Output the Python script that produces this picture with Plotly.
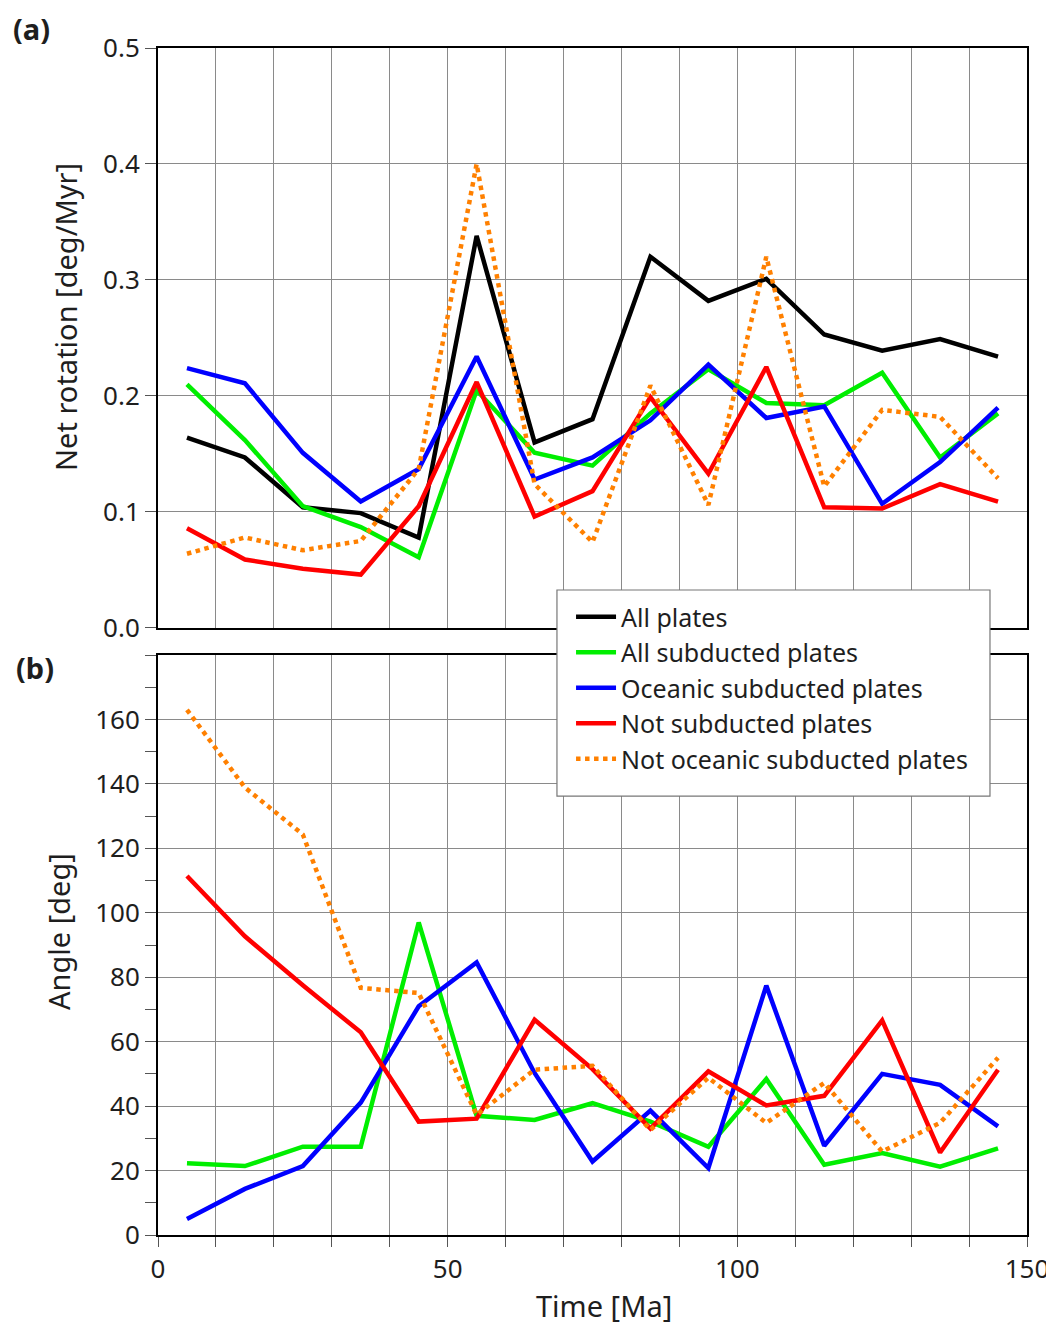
import plotly.graph_objects as go

time = [5, 15, 25, 35, 45, 55, 65, 75, 85, 95, 105, 115, 125, 135, 145]

series_names = ["All plates", "All subducted plates", "Oceanic subducted plates",
                "Not subducted plates", "Not oceanic subducted plates"]

# (a) Net rotation [deg/Myr]
nr_all = [0.164, 0.147, 0.104, 0.099, 0.078, 0.338, 0.160, 0.180, 0.320, 0.282, 0.301, 0.253, 0.239, 0.249, 0.234]
nr_sub = [0.210, 0.162, 0.105, 0.087, 0.061, 0.205, 0.151, 0.140, 0.185, 0.223, 0.194, 0.192, 0.220, 0.147, 0.185]
nr_ocs = [0.224, 0.211, 0.151, 0.109, 0.137, 0.234, 0.128, 0.147, 0.179, 0.227, 0.181, 0.191, 0.107, 0.143, 0.190]
nr_nsb = [0.086, 0.059, 0.051, 0.046, 0.105, 0.212, 0.096, 0.118, 0.199, 0.133, 0.225, 0.104, 0.103, 0.124, 0.109]
nr_nos = [0.064, 0.078, 0.067, 0.075, 0.137, 0.400, 0.124, 0.074, 0.209, 0.106, 0.320, 0.122, 0.188, 0.182, 0.129]

# (b) Angle [deg]
an_sub = [22.3, 21.4, 27.4, 27.4, 97.0, 37.0, 35.7, 40.9, 35.2, 27.4, 48.4, 21.8, 25.4, 21.2, 26.9]
an_ocs = [5.0, 14.3, 21.4, 41.1, 71.0, 84.6, 50.3, 22.8, 38.6, 20.8, 77.4, 27.7, 50.0, 46.6, 33.7]
an_nsb = [111.4, 92.7, 77.5, 62.9, 35.2, 36.1, 66.8, 51.5, 33.0, 50.8, 40.2, 43.2, 66.6, 25.6, 51.3]
an_nos = [163.0, 138.9, 124.3, 76.7, 75.1, 37.3, 51.3, 52.5, 32.6, 48.8, 34.8, 47.2, 25.9, 34.8, 55.0]

x_tickvals = [0, 10, 20, 30, 40, 50, 60, 70, 80, 90, 100, 110, 120, 130, 140, 150]
x_ticktext = ["0", "", "", "", "", "50", "", "", "", "", "100", "", "", "", "", "150"]
ya_tickvals = [0.0, 0.1, 0.2, 0.3, 0.4, 0.5]
ya_ticktext = ["0.0", "0.1", "0.2", "0.3", "0.4", "0.5"]
yb_tickvals = [0, 20, 40, 60, 80, 100, 120, 140, 160]

colors = ["#000000", "#00EE00", "#0000FF", "#FF0000", "#FF8000"]
dashes = ["solid", "solid", "solid", "solid", "dot"]

FONT = "Noto Sans"
TXT = "#1e1e1e"
fig = go.Figure()

data_a = [nr_all, nr_sub, nr_ocs, nr_nsb, nr_nos]
for name, ys, c, d in zip(series_names, data_a, colors, dashes):
    fig.add_trace(go.Scatter(x=time, y=ys, mode="lines", name=name,
                             line=dict(color=c, width=4.5, dash=d),
                             xaxis="x", yaxis="y", showlegend=True))

data_b = [an_sub, an_ocs, an_nsb, an_nos]
for name, ys, c, d in zip(series_names[1:], data_b, colors[1:], dashes[1:]):
    fig.add_trace(go.Scatter(x=time, y=ys, mode="lines", name=name,
                             line=dict(color=c, width=4.5, dash=d),
                             xaxis="x2", yaxis="y2", showlegend=False))

grid_col = "#8a8a8a"
axis_common = dict(showline=True, linecolor="black", linewidth=2, mirror=True,
                   gridcolor=grid_col, gridwidth=1, zeroline=False,
                   tickfont=dict(family=FONT, size=26, color=TXT))

title_font = dict(family=FONT, size=29, color=TXT)
label_font = dict(family=FONT, size=29, color=TXT)

fig.update_layout(
    width=1054, height=1326,
    paper_bgcolor="white", plot_bgcolor="white",
    margin=dict(l=150, r=35, t=40, b=99),
    font=dict(family=FONT, color=TXT),
    xaxis=dict(domain=[0, 1], anchor="y", range=[0, 150], tickvals=x_tickvals,
               showticklabels=False, ticks="", **axis_common),
    yaxis=dict(domain=[0.5114, 1], anchor="x", range=[0, 0.5], tickvals=ya_tickvals,
               ticktext=ya_ticktext, ticks="outside", ticklen=11, tickcolor="#555",
               **axis_common),
    xaxis2=dict(domain=[0, 1], anchor="y2", range=[0, 150], tickvals=x_tickvals,
                ticktext=x_ticktext, ticks="outside", ticklen=10, tickcolor="#555",
                **axis_common),
    yaxis2=dict(domain=[0, 0.4886], anchor="x2", range=[0, 180], tickvals=yb_tickvals,
                ticks="outside", ticklen=11, tickcolor="#555",
                minor=dict(dtick=10, tick0=0, ticks="outside", ticklen=11, tickcolor="#555", showgrid=False),
                **axis_common),
    legend=dict(x=0.4753, y=0.5400, xanchor="left", yanchor="top",
                bgcolor="rgba(0,0,0,0)", borderwidth=0,
                font=dict(family=FONT, size=25, color=TXT),
                traceorder="normal", itemwidth=40),
    shapes=[
        dict(type="rect", xref="paper", yref="paper", x0=0.4591, x1=0.9574, y0=0.3698, y1=0.5434,
             fillcolor="white", line=dict(color="#777", width=1.2), layer="above"),
    ],
    annotations=[
        dict(text="Net rotation [deg/Myr]", xref="paper", yref="paper", x=-0.1059, y=0.7734,
             textangle=-90, xanchor="center", yanchor="middle", showarrow=False, font=title_font),
        dict(text="Angle [deg]", xref="paper", yref="paper", x=-0.1139, y=0.2553,
             textangle=-90, xanchor="center", yanchor="middle", showarrow=False, font=title_font),
        dict(text="Time [Ma]", xref="paper", yref="paper", x=0.5127, y=-0.0590,
             xanchor="center", yanchor="middle", showarrow=False, font=title_font),
        dict(text="<b>(a)</b>", xref="paper", yref="paper", x=-0.145, y=1.0168,
             xanchor="center", yanchor="middle", showarrow=False, font=label_font),
        dict(text="<b>(b)</b>", xref="paper", yref="paper", x=-0.1415, y=0.4785,
             xanchor="center", yanchor="middle", showarrow=False, font=label_font),
    ],
)

fig.write_html("out.html")
